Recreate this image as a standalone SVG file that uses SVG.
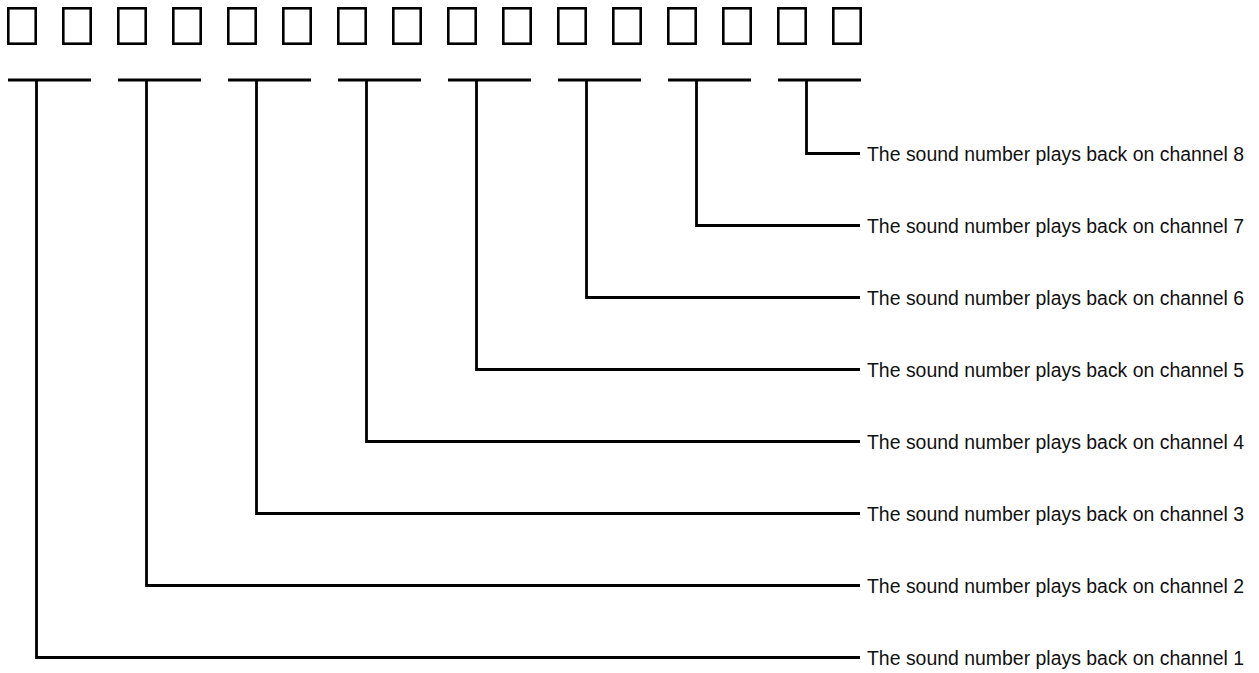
<svg xmlns="http://www.w3.org/2000/svg" width="1259" height="673" viewBox="0 0 1259 673">
<style>
.box{fill:none;stroke:#000;stroke-width:2.6}
.ln{fill:none;stroke:#000;stroke-width:2.8}
.lbl{font-family:"Liberation Sans",Arial,sans-serif;font-size:20px;fill:#111}
</style>
<rect width="1259" height="673" fill="#fff"/>
<g id="boxes">
<rect class="box" x="8.3" y="8.3" width="27.4" height="35.4"/>
<rect class="box" x="63.3" y="8.3" width="27.4" height="35.4"/>
<rect class="box" x="118.3" y="8.3" width="27.4" height="35.4"/>
<rect class="box" x="173.3" y="8.3" width="27.4" height="35.4"/>
<rect class="box" x="228.3" y="8.3" width="27.4" height="35.4"/>
<rect class="box" x="283.3" y="8.3" width="27.4" height="35.4"/>
<rect class="box" x="338.3" y="8.3" width="27.4" height="35.4"/>
<rect class="box" x="393.3" y="8.3" width="27.4" height="35.4"/>
<rect class="box" x="448.3" y="8.3" width="27.4" height="35.4"/>
<rect class="box" x="503.3" y="8.3" width="27.4" height="35.4"/>
<rect class="box" x="558.3" y="8.3" width="27.4" height="35.4"/>
<rect class="box" x="613.3" y="8.3" width="27.4" height="35.4"/>
<rect class="box" x="668.3" y="8.3" width="27.4" height="35.4"/>
<rect class="box" x="723.3" y="8.3" width="27.4" height="35.4"/>
<rect class="box" x="778.3" y="8.3" width="27.4" height="35.4"/>
<rect class="box" x="833.3" y="8.3" width="27.4" height="35.4"/>
</g>
<g id="connectors">
<path class="ln" d="M8 80H91M36.5 80V657.5H860"/>
<path class="ln" d="M118 80H201M146.5 80V585.5H860"/>
<path class="ln" d="M228 80H311M256.5 80V513.5H860"/>
<path class="ln" d="M338 80H421M366.5 80V441.5H860"/>
<path class="ln" d="M448 80H531M476.5 80V369.5H860"/>
<path class="ln" d="M558 80H641M586.5 80V297.5H860"/>
<path class="ln" d="M668 80H751M696.5 80V225.5H860"/>
<path class="ln" d="M778 80H861M806.5 80V153.5H860"/>
</g>
<g id="labels">
<text id="ch8" class="lbl" x="867" y="160.5" textLength="377" lengthAdjust="spacingAndGlyphs">The sound number plays back on channel 8</text>
<text id="ch7" class="lbl" x="867" y="232.5" textLength="377" lengthAdjust="spacingAndGlyphs">The sound number plays back on channel 7</text>
<text id="ch6" class="lbl" x="867" y="304.5" textLength="377" lengthAdjust="spacingAndGlyphs">The sound number plays back on channel 6</text>
<text id="ch5" class="lbl" x="867" y="376.5" textLength="377" lengthAdjust="spacingAndGlyphs">The sound number plays back on channel 5</text>
<text id="ch4" class="lbl" x="867" y="448.5" textLength="377" lengthAdjust="spacingAndGlyphs">The sound number plays back on channel 4</text>
<text id="ch3" class="lbl" x="867" y="520.5" textLength="377" lengthAdjust="spacingAndGlyphs">The sound number plays back on channel 3</text>
<text id="ch2" class="lbl" x="867" y="592.5" textLength="377" lengthAdjust="spacingAndGlyphs">The sound number plays back on channel 2</text>
<text id="ch1" class="lbl" x="867" y="664.5" textLength="377" lengthAdjust="spacingAndGlyphs">The sound number plays back on channel 1</text>
</g>
</svg>
